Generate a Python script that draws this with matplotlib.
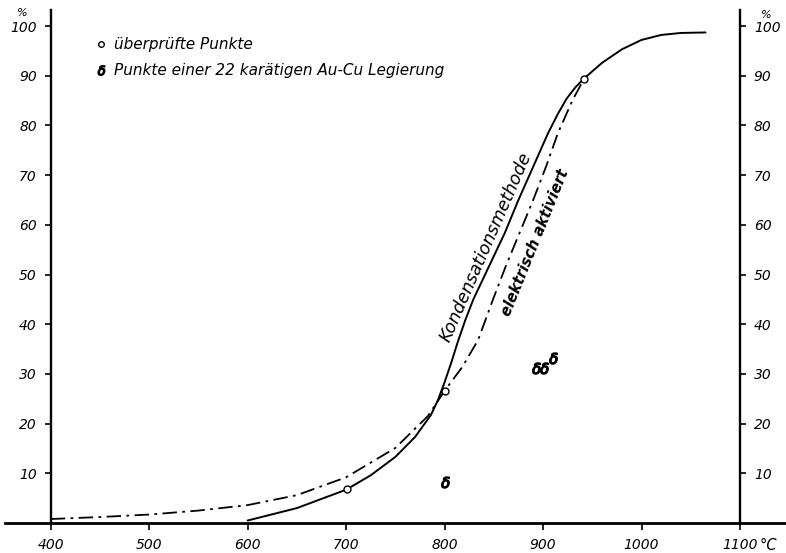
import matplotlib
matplotlib.use("Agg")
import matplotlib.pyplot as plt
from matplotlib.lines import Line2D

# --- data ---
kond_T = [600, 650, 700, 725, 750, 770, 786, 793, 800, 807, 813, 821, 829, 845, 861, 875, 890, 905, 915, 924, 933, 942, 960, 980, 1000, 1020, 1040, 1065]
kond_p = [0.5, 3.0, 6.7, 9.6, 13.3, 17.3, 21.7, 24.6, 28.3, 32.4, 36.2, 40.8, 44.9, 51.6, 58.3, 65.0, 71.7, 78.4, 82.3, 85.4, 87.7, 89.5, 92.6, 95.3, 97.2, 98.2, 98.6, 98.7]

elek_T = [400, 450, 500, 550, 600, 650, 700, 750, 783, 800, 818, 834, 849, 862, 876, 890, 903, 915, 930, 942]
elek_p = [0.8, 1.2, 1.7, 2.5, 3.6, 5.6, 9.2, 15.1, 21.5, 26.6, 31.4, 36.8, 44.9, 51.6, 58.3, 65.0, 71.7, 78.4, 85.1, 89.5]

check_T = [701, 800, 942]
check_p = [6.8, 26.6, 89.3]

aucu_T = [800, 893, 901, 910]
aucu_p = [8.3, 31.1, 31.2, 33.1]

xticks = [400, 500, 600, 700, 800, 900, 1000, 1100]
xticklabels = ["400", "500", "600", "700", "800", "900", "1000", "1100"]
yticks = [10, 20, 30, 40, 50, 60, 70, 80, 90, 100]

label_kond = "Kondensationsmethode"
label_elek = "elektrisch aktiviert"
legend_check = "überprüfte Punkte"
legend_aucu = "Punkte einer 22 karätigen Au-Cu Legierung"

plt.rcParams['font.family'] = ['DejaVu Sans']
W, H = 786, 553
fig = plt.figure(figsize=(W / 100, H / 100), dpi=100)
x0, x1, ybot, ytop = 50.7, 740, 523, 10
ax = fig.add_axes([x0 / W, (H - ybot) / H, (x1 - x0) / W, (ybot - ytop) / H])
ax.set_xlim(400, 1100)
ax.set_ylim(0, (ybot - ytop) / 4.97)

ax.plot(kond_T, kond_p, color='black', lw=1.4, solid_capstyle='round', solid_joinstyle='round')
ax.plot(elek_T, elek_p, color='black', lw=1.3, linestyle=(0, (8, 3, 1.5, 3)))
ax.plot(check_T, check_p, linestyle='none', marker='o', ms=5, mfc='white', mec='black', mew=1.0)
ax.plot(aucu_T, aucu_p, linestyle='none', marker=r'$\delta$', ms=8, color='black')

for s in ['top', 'bottom']:
    ax.spines[s].set_visible(False)
for s in ['left', 'right']:
    ax.spines[s].set_linewidth(1.7)

# extended base line
ax.plot([-0.066, 1.067], [0, 0], transform=ax.get_yaxis_transform(), clip_on=False,
        color='black', lw=2.0)

ax.set_xticks(xticks)
ax.set_xticklabels(xticklabels, fontstyle='italic', fontsize=10)
ax.tick_params(axis='x', direction='out', length=5, width=1.2, pad=6)

ax.set_yticks(yticks)
ax.set_yticklabels([str(v) for v in yticks], fontstyle='italic', fontsize=10)
ax.tick_params(axis='y', direction='out', length=4, width=1.2, pad=6,
               left=True, right=True, labelleft=True, labelright=True)

ax.annotate("°C", xy=(1100, 0), xytext=(14, -16), textcoords='offset points',
            ha='left', va='center', fontstyle='italic', fontsize=10.5)
ax.text((22 - x0) / (x1 - x0), 102.6, "%", transform=ax.get_yaxis_transform(),
        ha='center', va='center', fontstyle='italic', fontsize=8)
ax.text((766 - x0) / (x1 - x0), 102.3, "%", transform=ax.get_yaxis_transform(),
        ha='center', va='center', fontstyle='italic', fontsize=8)

ax.text(842, 55.6, label_kond, rotation=66.4, rotation_mode='anchor',
        ha='center', va='center', fontstyle='italic', fontsize=12.5)
ax.text(892, 56.5, label_elek, rotation=68, rotation_mode='anchor',
        ha='center', va='center', fontstyle='italic', fontweight='bold', fontsize=10.5)

handles = [
    Line2D([], [], linestyle='none', marker='o', ms=4, mfc='white', mec='black', mew=1.0),
    Line2D([], [], linestyle='none', marker=r'$\delta$', ms=7, color='black'),
]
ax.legend(handles, [legend_check, legend_aucu], loc='upper left',
          bbox_to_anchor=((96 - x0) / (x1 - x0), (ybot - 37) / (ybot - ytop)),
          frameon=False, handlelength=0.6, handletextpad=0.6, labelspacing=0.75,
          borderaxespad=0, borderpad=0, prop={'style': 'italic', 'size': 11})

fig.savefig("out.png", dpi=100)
